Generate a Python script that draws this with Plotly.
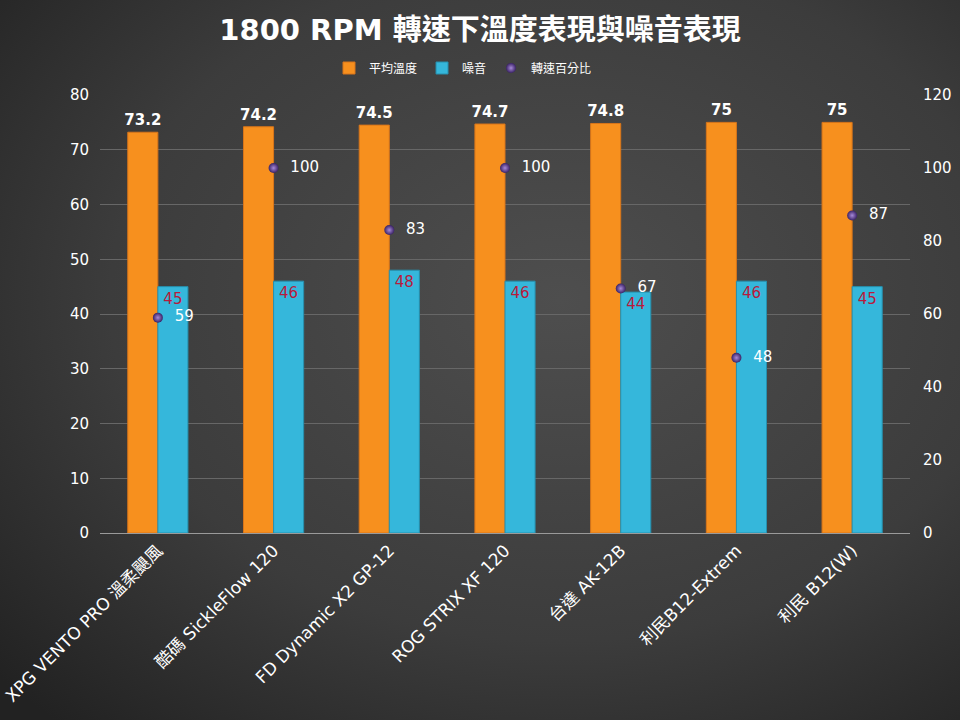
import plotly.graph_objects as go
import base64

categories = ["XPG VENTO PRO 溫柔颶風", "酷碼 SickleFlow 120", "FD Dynamic X2 GP-12",
              "ROG STRIX XF 120", "台達 AK-12B", "利民B12-Extrem", "利民 B12(W)"]
avg_temp = [73.2, 74.2, 74.5, 74.7, 74.8, 75, 75]
noise = [45, 46, 48, 46, 44, 46, 45]
speed_pct = [59, 100, 83, 100, 67, 48, 87]

font_family = "DejaVu Sans, Noto Sans CJK TC, sans-serif"
title_family = "DejaVu Sans, Noto Sans CJK TC, sans-serif"

W, H = 960, 720
ML, MR, MT, MB = 100, 50, 95, 187
PW, PH = W - ML - MR, H - MT - MB

svg = (
    '<svg xmlns="http://www.w3.org/2000/svg" width="1000" height="760">'
    '<defs><radialGradient id="g" cx="0.58" cy="0.42" r="0.75">'
    '<stop offset="0" stop-color="#4e4e4e"/><stop offset="0.6" stop-color="#3c3c3c"/>'
    '<stop offset="1" stop-color="#222222"/></radialGradient></defs>'
    '<rect width="1000" height="760" fill="url(#g)"/></svg>'
)
bg_uri = "data:image/svg+xml;base64," + base64.b64encode(svg.encode()).decode()

fig = go.Figure()
fig.add_trace(go.Bar(
    name="平均溫度", x=categories, y=avg_temp,
    marker=dict(color="#f7901e", line=dict(color="#d8751a", width=1)),
    text=[f"<b>{v:g}</b>" for v in avg_temp], textposition="outside",
    textfont=dict(color="white", size=15, family=font_family),
    constraintext="none", cliponaxis=False,
))
fig.add_trace(go.Bar(
    name="噪音", x=categories, y=noise,
    marker=dict(color="#35b7db", line=dict(color="#2690ae", width=1)),
    text=[str(v) for v in noise], textposition="inside", insidetextanchor="end",
    textfont=dict(color="#b81a3c", size=15, family=font_family),
    constraintext="none",
))
fig.add_trace(go.Scatter(
    name="轉速百分比", x=categories, y=speed_pct, yaxis="y2",
    mode="markers+text",
    marker=dict(color="#3a2266", size=10,
                gradient=dict(type="radial", color="#a78ad8")),
    text=[f"  {v}" for v in speed_pct], textposition="middle right",
    textfont=dict(color="white", size=15, family=font_family),
    cliponaxis=False,
))

fig.update_layout(
    width=W, height=H,
    paper_bgcolor="#2a2a2a", plot_bgcolor="rgba(0,0,0,0)",
    margin=dict(l=ML, r=MR, t=MT, b=MB, autoexpand=False),
    barmode="group", bargap=0.48, bargroupgap=0,
    title=dict(text="<b>1800 RPM 轉速下溫度表現與噪音表現</b>", x=0.5, xanchor="center",
               y=1 - 30 / H, yanchor="middle",
               font=dict(color="white", size=29, family=title_family)),
    legend=dict(orientation="h", x=(463 - ML) / PW, xanchor="center", y=1 + 27 / PH,
                yanchor="middle",
                font=dict(color="white", size=12, family="Noto Sans CJK TC"),
                bgcolor="rgba(0,0,0,0)", itemwidth=30),
    font=dict(family=font_family, color="white"),
    xaxis=dict(tickangle=-45, tickfont=dict(size=17, color="white"),
               showline=True, linecolor="#9a9a9a", linewidth=1, ticks="",
               automargin=False),
    yaxis=dict(range=[0, 80], dtick=10, gridcolor="#676767", gridwidth=1,
               tickfont=dict(size=15, color="white"), zeroline=False, ticks="",
               ticklabelstandoff=10, automargin=False),
    yaxis2=dict(range=[0, 120], dtick=20, overlaying="y", side="right",
                showgrid=False, zeroline=False,
                tickfont=dict(size=15, color="white"), ticks="",
                ticklabelstandoff=12, automargin=False),
    images=[dict(source=bg_uri, xref="paper", yref="paper",
                 x=-(ML + 20) / PW, y=1 + (MT + 20) / PH,
                 sizex=(W + 40) / PW, sizey=(H + 40) / PH,
                 xanchor="left", yanchor="top", sizing="stretch", layer="below")],
)

fig.write_html("out.html", config={"displayModeBar": False},
               post_script="document.body.style.margin='0';")
